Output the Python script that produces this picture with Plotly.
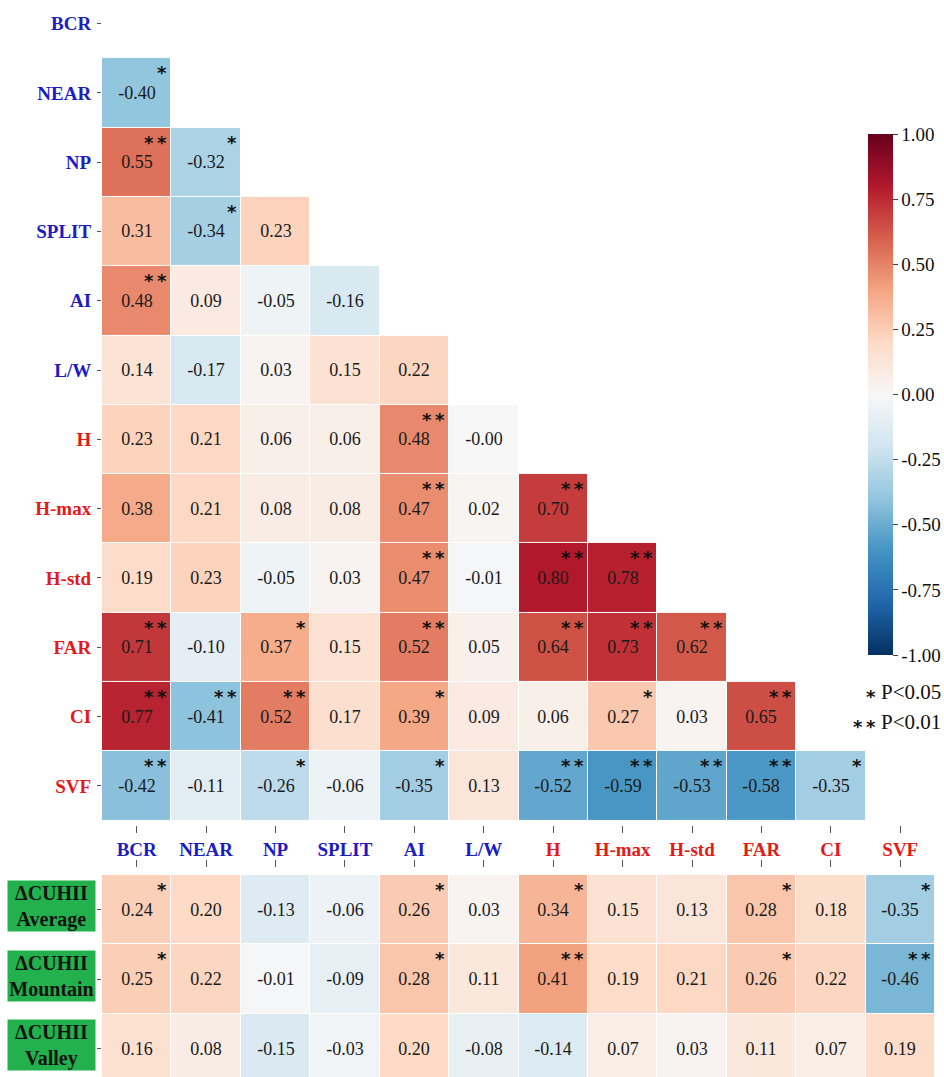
import plotly.graph_objects as go

# Variables (urban form indicators)
variables = ["BCR", "NEAR", "NP", "SPLIT", "AI", "L/W",
             "H", "H-max", "H-std", "FAR", "CI", "SVF"]
n_blue = 6  # first six are 2-D indicators (blue), rest 3-D (red)

# Lower-triangle Pearson correlations, row i holds columns 0..i-1
corr_rows = [
    [],
    [-0.40],
    [0.55, -0.32],
    [0.31, -0.34, 0.23],
    [0.48, 0.09, -0.05, -0.16],
    [0.14, -0.17, 0.03, 0.15, 0.22],
    [0.23, 0.21, 0.06, 0.06, 0.48, -0.0],
    [0.38, 0.21, 0.08, 0.08, 0.47, 0.02, 0.70],
    [0.19, 0.23, -0.05, 0.03, 0.47, -0.01, 0.80, 0.78],
    [0.71, -0.10, 0.37, 0.15, 0.52, 0.05, 0.64, 0.73, 0.62],
    [0.77, -0.41, 0.52, 0.17, 0.39, 0.09, 0.06, 0.27, 0.03, 0.65],
    [-0.42, -0.11, -0.26, -0.06, -0.35, 0.13, -0.52, -0.59, -0.53, -0.58, -0.35],
]
# Significance level: 0 = n.s., 1 = P<0.05, 2 = P<0.01
sig_rows = [
    [],
    [1],
    [2, 1],
    [0, 1, 0],
    [2, 0, 0, 0],
    [0, 0, 0, 0, 0],
    [0, 0, 0, 0, 2, 0],
    [0, 0, 0, 0, 2, 0, 2],
    [0, 0, 0, 0, 2, 0, 2, 2],
    [2, 0, 1, 0, 2, 0, 2, 2, 2],
    [2, 2, 2, 0, 1, 0, 0, 1, 0, 2],
    [2, 0, 1, 0, 1, 0, 2, 2, 2, 2, 1],
]

# Correlations with the canopy urban heat island intensity
cuhii_names = ["ΔCUHII<br>Average", "ΔCUHII<br>Mountain", "ΔCUHII<br>Valley"]
cuhii_average = [0.24, 0.20, -0.13, -0.06, 0.26, 0.03, 0.34, 0.15, 0.13, 0.28, 0.18, -0.35]
cuhii_mountain = [0.25, 0.22, -0.01, -0.09, 0.28, 0.11, 0.41, 0.19, 0.21, 0.26, 0.22, -0.46]
cuhii_valley = [0.16, 0.08, -0.15, -0.03, 0.20, -0.08, -0.14, 0.07, 0.03, 0.11, 0.07, 0.19]
sig_average = [1, 0, 0, 0, 1, 0, 1, 0, 0, 1, 0, 1]
sig_mountain = [1, 0, 0, 0, 1, 0, 2, 0, 0, 1, 0, 2]
sig_valley = [0] * 12

colorbar_ticks = [1.0, 0.75, 0.5, 0.25, 0.0, -0.25, -0.5, -0.75, -1.0]

# Diverging red-blue scale (ColorBrewer RdBu, reversed)
rdbu = ["#053061", "#2166ac", "#4393c3", "#92c5de", "#d1e5f0", "#f7f7f7",
        "#fddbc7", "#f4a582", "#d6604d", "#b2182b", "#67001f"]
colorscale = [[i / 10, c] for i, c in enumerate(rdbu)]

SERIF = "Liberation Serif"
STAR_FONT = dict(family="DejaVu Sans", size=18, color="#111111")
BLUE = "#1c1cc4"
RED = "#e41a1a"
THIN = "\u2009"

n = len(variables)
W_PX, H_PX = 944, 1077
L_PX, R_PX = 102, 9
PLOT_W = W_PX - L_PX - R_PX


def fmt(v):
    return f"{v:.2f}"


def stars(level):
    return "<b>" + THIN.join(["*"] * level) + "</b>"


# Build full matrices (None masks the upper triangle)
z_top = [[None] * n for _ in range(n)]
t_top = [[""] * n for _ in range(n)]
for i, row in enumerate(corr_rows):
    for j, v in enumerate(row):
        z_top[i][j] = v
        t_top[i][j] = fmt(v)

bottom_vals = [cuhii_average, cuhii_mountain, cuhii_valley]
bottom_sig = [sig_average, sig_mountain, sig_valley]
z_bot = [list(r) for r in bottom_vals]
t_bot = [[fmt(v) for v in r] for r in bottom_vals]

xs = list(range(n))

fig = go.Figure()
fig.add_trace(go.Heatmap(
    z=z_top, x=xs, y=list(range(n)), text=t_top, texttemplate="%{text}",
    textfont=dict(family=SERIF, size=18, color="#1a1a1a"),
    colorscale=colorscale, zmin=-1, zmax=1, xgap=1, ygap=1,
    hoverongaps=False, xaxis="x", yaxis="y",
    colorbar=dict(
        x=(868 - L_PX) / PLOT_W, xanchor="left", thickness=25,
        y=1 - 394.5 / H_PX, yanchor="middle", len=521 / H_PX, lenmode="fraction",
        outlinewidth=0, xpad=0, ypad=0,
        tickvals=colorbar_ticks, ticktext=[fmt(v) for v in colorbar_ticks],
        ticks="outside", ticklen=5, tickcolor="#444444",
        tickfont=dict(family=SERIF, size=19, color="#111111"),
    ),
))
fig.add_trace(go.Heatmap(
    z=z_bot, x=xs, y=[0, 1, 2], text=t_bot, texttemplate="%{text}",
    textfont=dict(family=SERIF, size=18, color="#1a1a1a"),
    colorscale=colorscale, zmin=-1, zmax=1, xgap=1, ygap=1,
    showscale=False, xaxis="x2", yaxis="y2",
))


def label(i):
    col = BLUE if i < n_blue else RED
    return f"<b><span style='color:{col}'>{variables[i]}</span></b>"


ticktext = [label(i) for i in range(n)]

annotations = []


def add_stars(r, c, level, yref, xref):
    if level == 0:
        return
    annotations.append(dict(
        x=c + 0.47, y=r - 0.29, xref=xref, yref=yref,
        text=stars(level), showarrow=False, xanchor="right", yanchor="middle",
        font=STAR_FONT,
    ))


for i, row in enumerate(sig_rows):
    for j, s in enumerate(row):
        add_stars(i, j, s, "y", "x")
for i, row in enumerate(bottom_sig):
    for j, s in enumerate(row):
        add_stars(i, j, s, "y2", "x2")

# Row labels for the heat-island block
for i, name in enumerate(cuhii_names):
    annotations.append(dict(
        x=(51 - L_PX) / PLOT_W, xref="paper", y=i - 0.05, yref="y2",
        text=f"<b>{name}</b>", showarrow=False, xanchor="center", yanchor="middle",
        bgcolor="#22b14c", width=87, height=50, borderpad=0,
        font=dict(family=SERIF, size=20, color="#111111"),
    ))

# Significance legend
for k, level in enumerate([1, 2]):
    y_px = 692 + 30 * k
    txt = "P&lt;0.05" if level == 1 else "P&lt;0.01"
    annotations.append(dict(
        x=(943 - L_PX) / PLOT_W, xref="paper", y=1 - y_px / H_PX, yref="paper",
        text=txt, showarrow=False, xanchor="right", yanchor="middle",
        font=dict(family=SERIF, size=21, color="#111111"),
    ))
    annotations.append(dict(
        x=(878 - L_PX) / PLOT_W, xref="paper", y=1 - (y_px + 4) / H_PX, yref="paper",
        text=stars(level), showarrow=False, xanchor="right", yanchor="middle",
        font=STAR_FONT,
    ))

axis_common = dict(showgrid=False, zeroline=False, showline=False,
                   tickcolor="#555555", tickwidth=1)

fig.update_layout(
    width=W_PX, height=H_PX,
    margin=dict(l=L_PX, r=R_PX, t=0, b=0, pad=0),
    paper_bgcolor="white", plot_bgcolor="white",
    font=dict(family=SERIF),
    annotations=annotations,
    xaxis=dict(
        **axis_common, domain=[0, 1], range=[-0.5, n - 0.5],
        anchor="free", position=1 - 825 / H_PX, side="bottom",
        tickvals=xs, ticktext=ticktext, ticks="outside", ticklen=7,
        ticklabelstandoff=0,
        tickfont=dict(family=SERIF, size=19),
    ),
    yaxis=dict(
        **axis_common, domain=[1 - 820.5 / H_PX, 1],
        range=[n - 0.5, n - 0.5 - 820.5 / 69.3],
        tickvals=list(range(n)), ticktext=ticktext, ticks="outside", ticklen=4,
        ticklabelstandoff=2,
        tickfont=dict(family=SERIF, size=19),
    ),
    xaxis2=dict(
        **axis_common, domain=[0, 1], range=[-0.5, n - 0.5],
        anchor="free", position=1 - 867 / H_PX, side="top",
        tickvals=xs, ticks="outside", ticklen=7, showticklabels=False,
    ),
    yaxis2=dict(
        **axis_common, domain=[0, 1 - 875 / H_PX],
        range=[-0.5 + 202 / 69.4, -0.5], anchor="x2",
        tickvals=[0, 1, 2], ticks="outside", ticklen=4, showticklabels=False,
    ),
)

fig.write_html("out.html")
